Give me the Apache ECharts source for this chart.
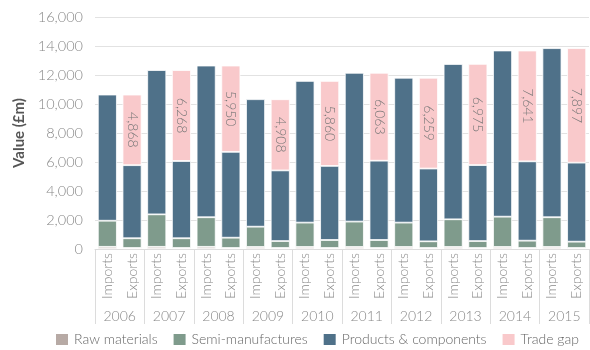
<!DOCTYPE html>
<html>
<head>
<meta charset="utf-8">
<style>
  html, body { margin: 0; padding: 0; background: #fff; }
  #chart { width: 590px; height: 350px; }
</style>
<script src="https://cdn.jsdelivr.net/npm/echarts@6/dist/echarts.min.js"></script>
</head>
<body>
<div id="chart"></div>
<script>
// Years and the two flows shown for each one
const years = ['2006', '2007', '2008', '2009', '2010', '2011', '2012', '2013', '2014', '2015'];
const flows = ['Imports', 'Exports'];

// Imports by component (£m)
const importsRaw = [150, 150, 150, 140, 140, 140, 140, 140, 140, 140];
const importsSemi = [1800, 2240, 2040, 1400, 1680, 1750, 1680, 1910, 2090, 2050];
const importsProducts = [8700, 9950, 10460, 8790, 9770, 10260, 9990, 10710, 11460, 11660];

// Exports by component (£m)
const exportsRaw = [70, 70, 70, 70, 70, 70, 70, 70, 70, 70];
const exportsSemi = [670, 670, 710, 480, 550, 550, 460, 480, 505, 435];
const exportsProducts = [5040, 5330, 5920, 4870, 5110, 5470, 5020, 5240, 5470, 5450];

// Gap between imports and exports (£m)
const tradeGap = [4868, 6268, 5950, 4908, 5860, 6063, 6259, 6975, 7641, 7897];

// Value axis ticks
const yTicks = { min: 0, max: 16000, interval: 2000 };

const FONT = 'Lato, "Open Sans", sans-serif';
const LIGHT = 300;

// Interleave imports / exports into one category per bar
const barCategories = [];
years.forEach(() => flows.forEach(f => barCategories.push(f)));
function interleave(imp, exp) {
  const out = [];
  for (let i = 0; i < years.length; i++) { out.push(imp ? imp[i] : null); out.push(exp ? exp[i] : null); }
  return out;
}

const colors = {
  raw: '#b7aaa5',
  semi: '#7f9b8c',
  products: '#4f7189',
  gap: '#f9c9cb'
};

function barSeries(name, data, color, extra) {
  return Object.assign({
    name: name,
    type: 'bar',
    stack: 'total',
    xAxisIndex: 0,
    barWidth: 19,
    data: data,
    itemStyle: { color: color, borderColor: '#ffffff', borderWidth: 0.8 },
    emphasis: { disabled: true }
  }, extra || {});
}

const chart = echarts.init(document.getElementById('chart'), null, { renderer: 'canvas' });
chart.setOption({
  animation: false,
  textStyle: { fontFamily: FONT },
  grid: { left: 95, right: 1, top: 17, bottom: 101 },
  legend: {
    bottom: 3,
    left: 54,
    padding: 0,
    icon: 'rect',
    itemWidth: 14,
    itemHeight: 13,
    itemGap: 14,
    textStyle: { fontFamily: FONT, fontWeight: LIGHT, fontSize: 14, color: '#666' },
    data: ['Raw materials', 'Semi-manufactures', 'Products & components', 'Trade gap']
  },
  xAxis: [
    {
      type: 'category',
      data: barCategories,
      axisLine: { show: true, lineStyle: { color: '#dcdcdc', width: 1 } },
      axisTick: { show: false },
      axisLabel: {
        interval: 0, rotate: 90, margin: 4,
        fontFamily: FONT, fontWeight: LIGHT, fontSize: 14, color: '#888'
      }
    },
    {
      type: 'category',
      data: years,
      position: 'bottom',
      gridIndex: 0,
      axisLine: { show: false },
      axisTick: { show: true, length: 75, interval: 0, lineStyle: { color: '#dcdcdc', width: 1 } },
      axisLabel: {
        interval: 0, margin: 60,
        fontFamily: FONT, fontWeight: LIGHT, fontSize: 14, color: '#888'
      },
      splitLine: { show: false }
    }
  ],
  yAxis: {
    type: 'value',
    min: yTicks.min,
    max: yTicks.max,
    interval: yTicks.interval,
    name: 'Value (£m)',
    nameLocation: 'middle',
    nameGap: 68,
    nameTextStyle: { fontFamily: FONT, fontSize: 15, fontWeight: 'bold', color: '#555' },
    axisLine: { show: false },
    axisTick: { show: false },
    axisLabel: {
      margin: 12, fontFamily: FONT, fontWeight: LIGHT, fontSize: 14.5, color: '#888',
      formatter: v => v.toLocaleString('en-US')
    },
    splitLine: { lineStyle: { color: '#e2e2e2', width: 1 } }
  },
  series: [
    barSeries('Raw materials', interleave(importsRaw, exportsRaw), colors.raw),
    barSeries('Semi-manufactures', interleave(importsSemi, exportsSemi), colors.semi),
    barSeries('Products & components', interleave(importsProducts, exportsProducts), colors.products),
    barSeries('Trade gap', interleave(null, tradeGap), colors.gap, {
      label: {
        show: true,
        position: 'inside',
        rotate: -90,
        fontFamily: FONT,
        fontWeight: LIGHT,
        fontSize: 14,
        color: '#777',
        formatter: p => p.value == null ? '' : p.value.toLocaleString('en-US')
      }
    })
  ]
});
</script>
</body>
</html>
